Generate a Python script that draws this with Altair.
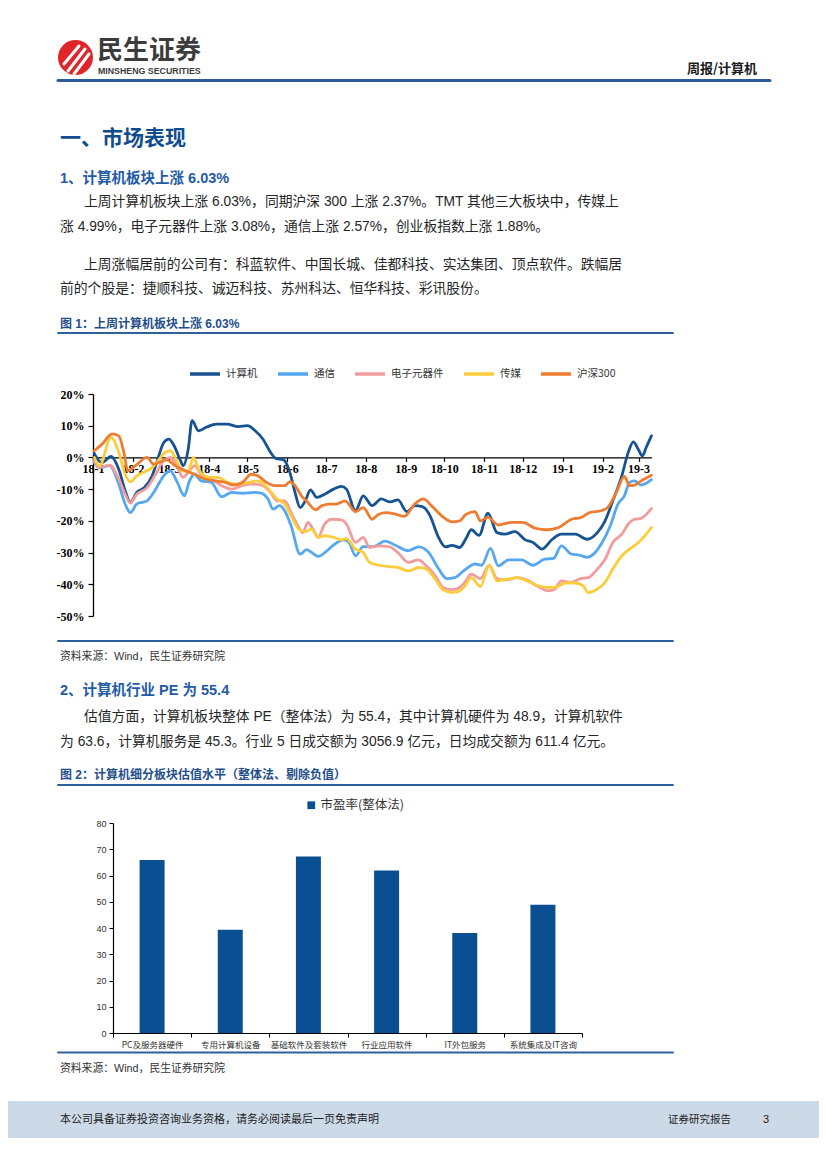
import altair as alt
import pandas as pd

CJK = "Noto Sans CJK SC"
BODY = "Liberation Sans, Noto Sans CJK SC"
SERIF = "Liberation Serif"
BLUE_T = "#0F4C8E"
BLUE_H = "#1F5BA6"
BLUE_C = "#1F4E8C"
RULE_C = "#2E6099"

# ---------------- Figure 1 data (days since 2018-01-01, cumulative change %) ----------------
series_names = ["计算机", "通信", "电子元器件", "传媒", "沪深300"]
series_colors = ["#175291", "#55A7EE", "#F29C9C", "#FCCD3B", "#EE7D31"]

jsj_days = [1, 2, 7, 14, 20, 25, 29, 34, 40, 46, 50, 55, 59, 63, 68, 70, 74, 77, 82, 88,
            96, 104, 113, 120, 126, 132, 138, 142, 148, 153, 157, 161, 165, 169, 174, 180, 187, 193, 197, 204,
            210, 217, 224, 231, 237, 244, 250, 256, 262, 268, 274, 279, 285, 290, 294, 300, 307, 314, 320, 328,
            336, 342, 349, 357, 364, 375, 384, 392, 398, 404, 411, 416, 420, 424, 427, 430, 434]
jsj_vals = [1.3, 0.5, -1.6, 0.3, -3.7, -10.5, -14.2, -11.0, -9.5, -5.8, -1.0, 4.7, 5.8, 3.7, -1.0, -2.6, 2.6, 11.6, 8.4, 9.5,
            10.5, 10.5, 9.7, 10.0, 8.4, 5.8, 1.6, -0.3, -0.7, -4.7, -11.0, -15.8, -13.7, -10.2, -12.6, -11.6, -10.0, -9.1, -10.0, -16.8,
            -12.1, -15.2, -13.1, -14.0, -13.4, -17.1, -15.2, -15.5, -18.4, -24.7, -28.2, -27.7, -28.4, -25.5, -22.8, -24.6, -17.6, -23.7, -24.2, -23.4,
            -26.0, -26.8, -28.9, -25.8, -24.2, -24.2, -25.8, -23.7, -20.0, -13.7, -5.8, 1.6, 4.9, 2.4, 0.5, 3.2, 6.8]

tx_days = [1, 5, 13, 20, 25, 29, 34, 42, 48, 55, 60, 65, 71, 75, 79, 84, 92, 100, 108, 116,
           126, 131, 136, 140, 145, 149, 154, 161, 166, 170, 175, 182, 188, 195, 199, 204, 210, 218, 227, 235,
           245, 253, 261, 268, 275, 281, 288, 297, 302, 309, 315, 323, 333, 342, 351, 358, 364, 372, 378, 384,
           389, 395, 402, 408, 413, 417, 421, 426, 434]
tx_vals = [-1.6, -3.2, -2.6, -8.4, -14.7, -17.4, -14.7, -13.7, -10.5, -5.8, -4.2, -7.4, -12.1, -7.4, -5.3, -7.4, -7.9, -12.4, -11.0, -11.3,
           -11.0, -11.3, -13.1, -16.3, -15.2, -16.8, -21.6, -30.5, -29.1, -30.0, -31.2, -29.4, -27.3, -26.0, -26.8, -31.0, -28.1, -28.1, -26.4, -27.7,
           -29.4, -28.2, -30.0, -34.7, -38.2, -37.9, -35.8, -33.6, -34.0, -28.7, -34.2, -32.3, -32.3, -34.0, -32.1, -31.8, -27.9, -30.5, -30.8, -31.5,
           -30.5, -27.3, -21.6, -14.7, -12.1, -7.9, -7.4, -8.7, -7.0]

dz_days = [1, 5, 13, 20, 25, 29, 34, 42, 48, 55, 60, 65, 70, 75, 79, 84, 92, 100, 108, 116,
           123, 131, 138, 143, 149, 154, 160, 163, 167, 171, 175, 180, 186, 193, 197, 204, 210, 215, 222, 230,
           237, 245, 253, 259, 266, 272, 279, 285, 289, 294, 301, 308, 314, 322, 329, 337, 345, 354, 359, 364,
           371, 379, 385, 392, 398, 404, 411, 416, 421, 426, 434]
dz_vals = [-1.0, -3.2, -2.4, -6.8, -11.6, -14.4, -11.6, -9.5, -5.8, -1.0, 0.0, -2.6, -6.3, -4.2, -2.6, -5.3, -6.8, -8.9, -10.0, -8.9,
           -8.4, -8.7, -11.0, -13.7, -13.7, -17.4, -22.1, -23.7, -20.5, -22.6, -25.2, -21.0, -19.5, -19.7, -21.0, -26.8, -25.2, -28.4, -27.9, -28.1,
           -30.0, -33.1, -32.3, -34.2, -37.3, -41.0, -41.7, -41.0, -39.4, -36.8, -38.2, -34.0, -38.2, -38.6, -37.9, -38.6, -40.5, -42.1, -41.5, -38.9,
           -39.4, -38.2, -37.9, -35.2, -32.1, -26.8, -24.2, -21.0, -19.5, -19.2, -16.1]

cm_days = [1, 5, 14, 20, 25, 29, 34, 40, 46, 50, 56, 60, 65, 69, 74, 78, 82, 90, 97, 105,
           113, 121, 128, 136, 143, 149, 154, 160, 165, 170, 175, 180, 187, 193, 197, 204, 210, 215, 222, 230,
           237, 245, 253, 259, 266, 272, 279, 285, 289, 294, 301, 308, 314, 322, 329, 337, 345, 353, 359, 367,
           375, 381, 385, 392, 398, 404, 411, 417, 424, 430, 434]
cm_vals = [0.0, -2.6, 6.3, 1.6, -5.3, -7.7, -5.8, -4.5, -3.2, -1.4, 1.6, 2.1, -1.0, -4.2, -4.5, 0.0, -3.7, -6.3, -6.3, -7.9,
           -8.4, -7.9, -7.4, -9.8, -13.1, -14.7, -18.4, -22.6, -23.4, -22.6, -25.2, -24.7, -25.2, -26.0, -25.6, -28.9, -30.0, -33.1, -34.0, -34.4,
           -34.7, -35.8, -34.7, -35.2, -38.4, -41.7, -42.6, -42.1, -40.5, -37.9, -40.7, -34.0, -38.9, -38.4, -37.9, -38.9, -40.3, -41.0, -41.0, -39.6,
           -39.6, -40.5, -42.6, -41.5, -39.4, -35.2, -31.0, -28.9, -26.8, -24.2, -22.1]

hs_days = [1, 7, 15, 20, 24, 27, 33, 42, 47, 57, 64, 72, 79, 87, 95, 103, 109, 116, 123, 128,
           135, 141, 149, 153, 157, 162, 167, 173, 178, 184, 189, 196, 204, 210, 217, 222, 228, 235, 242, 250,
           257, 263, 271, 279, 285, 290, 297, 301, 307, 315, 325, 334, 344, 353, 362, 372, 379, 386, 395, 400,
           407, 413, 417, 421, 426, 434]
hs_vals = [2.1, 4.2, 7.4, 6.8, 1.6, -4.2, -2.6, 0.0, -2.1, -0.8, -2.6, -4.2, -5.3, -6.8, -7.4, -7.9, -8.7, -7.9, -5.3, -5.8,
           -7.9, -8.9, -8.9, -7.6, -8.9, -12.1, -14.2, -16.5, -15.2, -14.7, -14.7, -13.7, -17.1, -15.8, -19.5, -17.9, -17.4, -17.9, -18.6, -14.7,
           -13.1, -15.2, -18.4, -20.3, -20.0, -17.9, -17.1, -20.0, -18.9, -21.3, -20.5, -20.5, -22.4, -22.8, -22.1, -19.5, -19.0, -17.4, -16.8, -15.8,
           -10.8, -6.0, -8.9, -8.7, -7.4, -5.6]

month_ticks = [(2018, m) for m in range(1, 13)] + [(2019, 1), (2019, 2), (2019, 3)]

# ---------------- Figure 2 data ----------------
categories = ["PC及服务器硬件", "专用计算机设备", "基础软件及套装软件", "行业应用软件", "IT外包服务", "系统集成及IT咨询"]
pe_values = [65.9, 39.3, 67.2, 61.9, 38.1, 48.9]
pe_label = "市盈率(整体法)"

# ---------------- text ----------------
p1a = "上周计算机板块上涨 6.03%，同期沪深 300 上涨 2.37%。TMT 其他三大板块中，传媒上"
p1b = "涨 4.99%，电子元器件上涨 3.08%，通信上涨 2.57%，创业板指数上涨 1.88%。"
p2a = "上周涨幅居前的公司有：科蓝软件、中国长城、佳都科技、实达集团、顶点软件。跌幅居"
p2b = "前的个股是：捷顺科技、诚迈科技、苏州科达、恒华科技、彩讯股份。"
p3a = "估值方面，计算机板块整体 PE（整体法）为 55.4，其中计算机硬件为 48.9，计算机软件"
p3b = "为 63.6，计算机服务是 45.3。行业 5 日成交额为 3056.9 亿元，日均成交额为 611.4 亿元。"
source_txt = "资料来源：Wind，民生证券研究院"

DUMMY = alt.Data(values=[{"k": 1}])
W = 811


def txt(s, x, y, size=13.8, weight="normal", color="#262626", font=BODY, align="left"):
    return alt.Chart(DUMMY).mark_text(text=s, align=align, baseline="middle", fontSize=size,
                                      fontWeight=weight, color=color, font=font).encode(
        x=alt.value(x), y=alt.value(y))


def seg(x1, y1, x2, y2, color, w):
    return alt.Chart(DUMMY).mark_rule(color=color, strokeWidth=w, strokeCap="round").encode(
        x=alt.value(x1), y=alt.value(y1), x2=alt.value(x2), y2=alt.value(y2))


def box(x1, x2, y1, y2, color):
    return alt.Chart(DUMMY).mark_rect(color=color).encode(
        x=alt.value(x1), x2=alt.value(x2), y=alt.value(y1), y2=alt.value(y2))


# ---------------- Row A: header + section text ----------------
logo = alt.Chart(DUMMY).mark_point(shape="circle", filled=True, size=1225, color="#E1262B", opacity=1).encode(
    x=alt.value(67.5), y=alt.value(49.5))
rowA = alt.layer(
    logo,
    seg(56, 56, 71, 38, "white", 3),
    seg(60, 63, 77, 41, "white", 3),
    seg(66, 66, 81, 46, "white", 3),
    txt("民生证券", 89, 43, size=26, weight="bold", color="#3C3C3C", font=CJK),
    txt("MINSHENG SECURITIES", 90, 63, size=8.8, weight="bold", color="#3C3C3C", font="Liberation Sans"),
    txt("周报/计算机", 749, 61, size=13, weight="bold", color="#1A1A1A", font=CJK, align="right"),
    seg(50, 72.5, 762, 72.5, "#2F5B9A", 3),
    txt("一、市场表现", 52, 131, size=21, weight="bold", color=BLUE_T, font=CJK),
    txt("1、计算机板块上涨 6.03%", 52, 171, size=14.5, weight="bold", color=BLUE_H),
    txt(p1a, 76, 194),
    txt(p1b, 52, 219),
    txt(p2a, 76, 257),
    txt(p2b, 52, 281),
    txt("图 1：上周计算机板块上涨 6.03%", 52, 316, size=12, weight="bold", color=BLUE_C),
    seg(50, 325, 665, 325, RULE_C, 2),
).properties(width=W, height=332)

# ---------------- Row B: figure 1 ----------------
start = pd.Timestamp("2018-01-01")
recs = []
for name, dd, vv in zip(series_names, [jsj_days, tx_days, dz_days, cm_days, hs_days],
                        [jsj_vals, tx_vals, dz_vals, cm_vals, hs_vals]):
    for d, v in zip(dd, vv):
        recs.append({"date": (start + pd.Timedelta(days=d)).strftime("%Y-%m-%dT00:00:00"),
                     "series": name, "value": v})
df1 = pd.DataFrame(recs)

lines = alt.Chart(df1).mark_line(strokeWidth=2.8, interpolate="monotone", strokeCap="round",
                                 strokeJoin="round").encode(
    x=alt.X("date:T",
            scale=alt.Scale(domain=[alt.DateTime(year=2018, month=1, date=1),
                                    alt.DateTime(year=2019, month=3, date=11)],
                            range=[85, 643.4], nice=False),
            axis=alt.Axis(values=[alt.DateTime(year=y, month=m, date=1) for y, m in month_ticks],
                          format="%y-%-m", title=None, orient="bottom", offset=-187.6, grid=False,
                          domainColor="black", domainWidth=1.3, tickColor="black", tickWidth=1.2,
                          tickSize=4, labelFont=SERIF, labelFontWeight="bold", labelFontSize=12,
                          labelColor="black", labelPadding=2, labelOverlap=False, labelFlush=False,
                          labelBound=False)),
    y=alt.Y("value:Q",
            scale=alt.Scale(domain=[-50, 20], range=[276, 54], nice=False, zero=False),
            axis=alt.Axis(values=list(range(-50, 30, 10)), labelExpr="datum.value + '%'", title=None,
                          orient="left", offset=-85, grid=False, domainColor="black", domainWidth=1.3,
                          tickColor="black", tickWidth=1.2, tickSize=5, labelFont=SERIF,
                          labelFontWeight="bold", labelFontSize=12, labelColor="black", labelPadding=4)),
    color=alt.Color("series:N", sort=series_names,
                    scale=alt.Scale(domain=series_names, range=series_colors),
                    legend=alt.Legend(title=None, orient="none", legendX=180, legendY=17,
                                      direction="horizontal", symbolType="stroke", symbolSize=900,
                                      symbolStrokeWidth=3.5, labelFont=CJK, labelFontSize=10.5,
                                      labelColor="#333333", columnPadding=13, labelOffset=4,
                                      padding=0)),
)
rowB = alt.layer(lines, seg(50, 301, 665, 301, RULE_C, 2)).properties(width=W, height=305)

# ---------------- Row C: source + section 2 ----------------
rowC = alt.layer(
    txt(source_txt, 52, 12, size=10.8, color="#333333"),
    txt("2、计算机行业 PE 为 55.4", 52, 46, size=14.5, weight="bold", color=BLUE_H),
    txt(p3a, 76, 72),
    txt(p3b, 52, 97),
    txt("图 2：计算机细分板块估值水平（整体法、剔除负值）", 52, 130, size=12, weight="bold", color=BLUE_C),
    seg(50, 140, 665, 140, RULE_C, 2),
).properties(width=W, height=150)

# ---------------- Row D: figure 2 ----------------
df2 = pd.DataFrame({"cat": categories, "pe": pe_values, "series": [pe_label] * len(categories)})
bars = alt.Chart(df2).mark_bar(size=25).encode(
    x=alt.X("cat:N", sort=categories,
            scale=alt.Scale(domain=categories, range=[105, 574], paddingInner=0, paddingOuter=0),
            axis=alt.Axis(title=None, orient="bottom", offset=-27, tickBand="extent", tickSize=4,
                          tickColor="black", domainColor="black", domainWidth=1.2, labelAngle=0,
                          labelFont=CJK, labelFontSize=8.5, labelColor="#333333", labelPadding=3)),
    y=alt.Y("pe:Q", scale=alt.Scale(domain=[0, 80], range=[238, 28], nice=False),
            axis=alt.Axis(values=list(range(0, 90, 10)), title=None, orient="left", offset=-105,
                          grid=False, tickSize=4, tickColor="black", domainColor="black",
                          domainWidth=1.2, labelFont="Liberation Sans", labelFontSize=9,
                          labelColor="#333333", labelPadding=3)),
    color=alt.Color("series:N", scale=alt.Scale(domain=[pe_label], range=["#0B4F93"]),
                    legend=alt.Legend(title=None, orient="none", legendX=297, legendY=4,
                                      symbolType="square", symbolSize=60, labelFont=CJK,
                                      labelFontSize=12.5, labelColor="#333333", labelOffset=3,
                                      padding=0)),
)
rowD = alt.layer(bars, seg(50, 257.5, 665, 257.5, RULE_C, 2)).properties(width=W, height=265)

# ---------------- Row E: source + footer ----------------
rowE = alt.layer(
    txt(source_txt, 52, 9, size=10.8, color="#333333"),
    box(0, W, 41, 78, "#CCDAE8"),
    txt("本公司具备证券投资咨询业务资格，请务必阅读最后一页免责声明", 52, 60, size=11, color="#222222", font=CJK),
    txt("证券研究报告", 660, 60, size=10.5, color="#222222", font=CJK),
    txt("3", 755, 60, size=11, color="#222222", font="Liberation Sans"),
).properties(width=W, height=101)

chart = alt.vconcat(rowA, rowB, rowC, rowD, rowE, spacing=0, bounds="flush").resolve_scale(
    color="independent").resolve_legend(color="independent").properties(
    padding=0).configure_view(stroke=None)

chart.save("out.html", embed_options={"renderer": "svg", "actions": False})
